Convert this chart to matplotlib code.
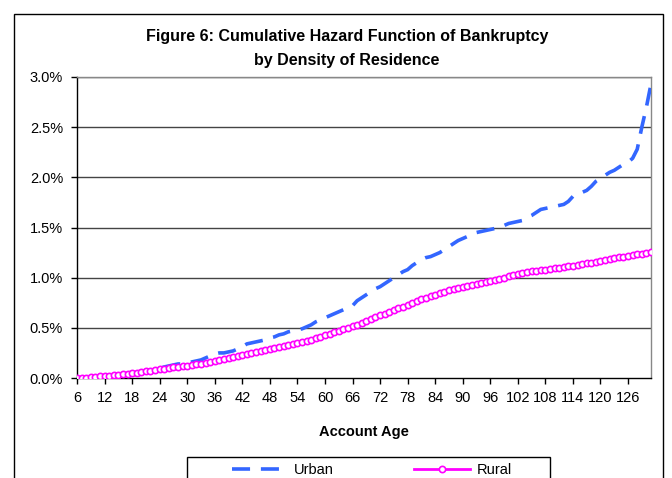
import matplotlib.pyplot as plt
from matplotlib.patches import Rectangle
from matplotlib.ticker import FuncFormatter

plt.rcParams['font.family'] = ['Liberation Sans', 'DejaVu Sans']

# --- Dados (valores em %) ---
months = list(range(6, 132))

urban = [
    0.00, 0.00, 0.00, 0.00, 0.01, 0.01, 0.01, 0.02, 0.02, 0.03,   # 6-15
    0.03, 0.04, 0.05, 0.05, 0.06, 0.07, 0.08, 0.09, 0.10, 0.11,   # 16-25
    0.12, 0.13, 0.14, 0.14, 0.15, 0.16, 0.17, 0.18, 0.20, 0.22,   # 26-35
    0.24, 0.25, 0.25, 0.26, 0.27, 0.29, 0.31, 0.34, 0.35, 0.36,   # 36-45
    0.37, 0.38, 0.40, 0.41, 0.43, 0.44, 0.46, 0.47, 0.48, 0.49,   # 46-55
    0.51, 0.53, 0.56, 0.58, 0.60, 0.62, 0.64, 0.66, 0.68, 0.70,   # 56-65
    0.72, 0.77, 0.80, 0.83, 0.86, 0.89, 0.91, 0.94, 0.97, 1.00,   # 66-75
    1.03, 1.06, 1.08, 1.12, 1.15, 1.18, 1.20, 1.21, 1.23, 1.25,   # 76-85
    1.28, 1.31, 1.34, 1.37, 1.39, 1.41, 1.43, 1.45, 1.46, 1.47,   # 86-95
    1.48, 1.49, 1.50, 1.52, 1.54, 1.55, 1.56, 1.57, 1.60, 1.62,   # 96-105
    1.65, 1.68, 1.69, 1.70, 1.71, 1.72, 1.73, 1.76, 1.81, 1.83,   # 106-115
    1.85, 1.87, 1.91, 1.96, 1.99, 2.02, 2.05, 2.07, 2.10, 2.13,   # 116-125
    2.15, 2.19, 2.28, 2.50, 2.70, 2.93,                           # 126-131
]

rural = [
    0.00, 0.00, 0.00, 0.01, 0.01, 0.02, 0.02, 0.02, 0.03, 0.03,   # 6-15
    0.04, 0.04, 0.05, 0.05, 0.06, 0.07, 0.07, 0.08, 0.09, 0.09,   # 16-25
    0.10, 0.11, 0.11, 0.12, 0.12, 0.13, 0.14, 0.14, 0.15, 0.16,   # 26-35
    0.17, 0.18, 0.19, 0.20, 0.21, 0.22, 0.23, 0.24, 0.25, 0.26,   # 36-45
    0.27, 0.28, 0.29, 0.30, 0.31, 0.32, 0.33, 0.34, 0.35, 0.36,   # 46-55
    0.37, 0.38, 0.40, 0.41, 0.43, 0.44, 0.46, 0.47, 0.49, 0.50,   # 56-65
    0.52, 0.53, 0.55, 0.57, 0.59, 0.61, 0.63, 0.64, 0.66, 0.68,   # 66-75
    0.70, 0.71, 0.73, 0.75, 0.77, 0.79, 0.80, 0.82, 0.83, 0.85,   # 76-85
    0.86, 0.88, 0.89, 0.90, 0.91, 0.92, 0.93, 0.94, 0.95, 0.96,   # 86-95
    0.97, 0.98, 0.99, 1.00, 1.02, 1.03, 1.04, 1.05, 1.06, 1.07,   # 96-105
    1.07, 1.08, 1.08, 1.09, 1.10, 1.10, 1.11, 1.12, 1.12, 1.13,   # 106-115
    1.14, 1.15, 1.15, 1.16, 1.17, 1.18, 1.19, 1.20, 1.21, 1.21,   # 116-125
    1.22, 1.23, 1.24, 1.24, 1.25, 1.26,                           # 126-131
]

tick_months = list(range(6, 127, 6))
y_ticks = [0.0, 0.5, 1.0, 1.5, 2.0, 2.5, 3.0]

# --- Figura ---
W, H = 672, 478
fig = plt.figure(figsize=(W / 100, H / 100), dpi=100)

# borda externa do gráfico (cortada embaixo como no original)
fig.patches.append(Rectangle((14 / W, -0.05), (663 - 14) / W, 1.05 - 14 / H,
                             transform=fig.transFigure, fill=False,
                             edgecolor='black', linewidth=1.0))

ax = fig.add_axes([77 / W, 1 - 378 / H, (651 - 77) / W, (378 - 77) / H])

x = list(range(len(months)))
ax.plot(x, urban, color='#3366FF', linewidth=2.6, dashes=(5, 3),
        label='Urban', zorder=3)
ax.plot(x, rural, color='#FF00FF', linewidth=2, marker='o', markersize=4.5,
        markerfacecolor='white', markeredgecolor='#FF00FF', markeredgewidth=1.2,
        label='Rural', zorder=4)

ax.set_xlim(0, len(months) - 1)
ax.set_ylim(0, 3.0)
ax.set_yticks(y_ticks)
ax.yaxis.set_major_formatter(FuncFormatter(lambda v, p: f"{v:.1f}%"))
ax.set_xticks([months.index(m) for m in tick_months])
ax.set_xticklabels([str(m) for m in tick_months])

for v in y_ticks[1:]:
    ax.axhline(v, color='#444444', linewidth=1, zorder=1)

ax.tick_params(axis='both', direction='out', length=4, width=1,
               labelsize=10.5, color='black')
ax.tick_params(axis='y', pad=6)
ax.tick_params(axis='x', pad=5)

ax.spines['left'].set_color('black')
ax.spines['bottom'].set_color('black')
ax.spines['top'].set_color('#888888')
ax.spines['right'].set_color('#888888')
for s in ax.spines.values():
    s.set_linewidth(1)

# títulos
fig.text(347 / W, 1 - 37 / H, "Figure 6: Cumulative Hazard Function of Bankruptcy",
         ha='center', va='center', fontsize=11.5, fontweight='bold')
fig.text(347 / W, 1 - 60 / H, "by Density of Residence",
         ha='center', va='center', fontsize=11.5, fontweight='bold')
fig.text(364 / W, 1 - 432 / H, "Account Age",
         ha='center', va='center', fontsize=10.5, fontweight='bold')

# legenda: moldura própria + entradas centralizadas
fig.patches.append(Rectangle((187 / W, -0.05), (550 - 187) / W, 0.05 + 1 - 457 / H,
                             transform=fig.transFigure, fill=False,
                             edgecolor='black', linewidth=1.0))
leg = fig.legend(loc='center', bbox_to_anchor=(372 / W, 1 - 470 / H),
                 ncol=2, frameon=False, fontsize=10.5, handlelength=3.8,
                 handletextpad=0.5, borderpad=0, borderaxespad=0,
                 columnspacing=5.5)

fig.savefig("out.png", dpi=100)
